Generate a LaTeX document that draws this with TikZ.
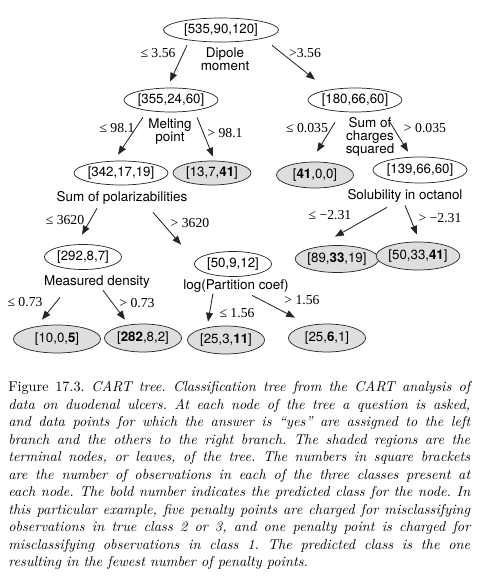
\documentclass[tikz,border=0pt]{standalone}
\usepackage{fontspec}
\newfontfamily\helv{TeX Gyre Heros}
\newfontfamily\tms{Liberation Serif}
\usetikzlibrary{arrows.meta,shapes.geometric}
\frenchspacing

\begin{document}
\begin{tikzpicture}[x=0.7pt,y=-0.7pt,->,>={Triangle[length=6.2pt,width=4.8pt]},
    every edge/.style={draw, black!85, line width=0.6pt},
    splitnode/.style={ellipse, draw=black!85, line width=0.5pt, inner sep=0pt, minimum height=16.8pt, font=\helv\fontsize{9.3}{10}\selectfont},
    leafnode/.style={splitnode, fill=black!13},
    cond/.style={font=\tms\fontsize{9.6}{10}\selectfont, inner sep=0pt},
    question/.style={font=\helv\fontsize{9.4}{9.1}\selectfont, inner sep=0pt, align=center},
    caption/.style={text width=323.4pt, align=justify, inner sep=0pt, font=\fontsize{10}{12.25}\selectfont}]
  \useasboundingbox (0,0) rectangle (479,583);

  \node[splitnode, minimum width=80.5pt] (root)  at (221,30)  {[535,90,120]};
  \node[splitnode, minimum width=64.4pt] (n355)  at (171,100) {[355,24,60]};
  \node[splitnode, minimum width=63pt]   (n180)  at (355,100) {[180,66,60]};
  \node[splitnode, minimum width=59.5pt] (n342)  at (121,173) {[342,17,19]};
  \node[leafnode,  minimum width=54.6pt] (n13)   at (212,173) {[13,7,\textbf{41}]};
  \node[leafnode,  minimum width=54pt, minimum height=18.2pt]   (n41)   at (315,175) {[\textbf{41},0,0]};
  \node[splitnode, minimum width=61.6pt, minimum height=18.2pt] (n139)  at (420,170) {[139,66,60]};
  \node[splitnode, minimum width=54pt, minimum height=17.5pt]   (n292)  at (83,257)  {[292,8,7]};
  \node[splitnode, minimum width=54pt, minimum height=17.5pt]   (n50)   at (233,264) {[50,9,12]};
  \node[leafnode,  minimum width=54pt, minimum height=18.9pt]   (n89)   at (337,259) {[89,\textbf{33},19]};
  \node[leafnode,  minimum width=55pt, minimum height=19.6pt]   (n5033) at (418,256) {[50,33,\textbf{41}]};
  \node[leafnode,  minimum width=61pt, minimum height=19.6pt]   (n10)   at (57,339)  {[10,0,\textbf{5}]};
  \node[leafnode,  minimum width=54pt, minimum height=19.6pt]   (n282)  at (143,338) {[\textbf{282},8,2]};
  \node[leafnode,  minimum width=54pt, minimum height=19.6pt]   (n253)  at (226,340) {[25,3,\textbf{11}]};
  \node[leafnode,  minimum width=54pt, minimum height=19.6pt]   (n2561) at (327,338) {[25,\textbf{6},1]};

  \node[question] (qdipole)   at (225,59)  {Dipole\\moment};
  \node[question] (qmelt)     at (170,132) {Melting\\point};
  \node[question] (qcharge)   at (370,137) {Sum of\\charges\\squared};
  \node[question] (qpolar)    at (122,198) {Sum of polarizabilities};
  \node[question] (qsolub)    at (405,196) {Solubility in octanol};
  \node[question] (qdensity)  at (97,282)  {Measured density};
  \node[question] (qpartit)   at (236,286) {log(Partition coef)};

  \node[cond] (cdipl) at (158,53)  {≤ 3.56};
  \node[cond] (cdipr) at (305,53)  {>3.56};
  \node[cond] (cmelt) at (117,128) {≤ 98.1};
  \node[cond] (cmeltr) at (225,133) {> 98.1};
  \node[cond] (cchrl) at (307,128) {≤ 0.035};
  \node[cond] (cchrr) at (425,128) {> 0.035};
  \node[cond] (cpoll) at (65,220)  {≤ 3620};
  \node[cond] (cpolr) at (190,223) {> 3620};
  \node[cond] (csoll) at (330,215) {≤ −2.31};
  \node[cond] (csolr) at (440,218) {> −2.31};
  \node[cond] (cdenl) at (25,302)  {≤ 0.73};
  \node[cond] (cdenr) at (137,303) {> 0.73};
  \node[cond] (cparl) at (237,313) {≤ 1.56};
  \node[cond] (cparr) at (302,300) {> 1.56};

  \path ([shift={(-34,3)}]root.south) edge ([shift={(-1,-6)}]n355.north)
        ([shift={(51,3)}]root.south)  edge ([shift={(-40,-8)}]n180.north)
        ([shift={(-28,5)}]n355.south) edge ([shift={(-3,-6)}]n342.north)
        ([shift={(26,5)}]n355.south)  edge ([shift={(1,-4)}]n13.north)
        ([shift={(-20,10)}]n180.south) edge ([shift={(2,-10)}]n41.north)
        ([shift={(35,10)}]n180.south)  edge ([shift={(-12,-5)}]n139.north)
        ([shift={(-24,23)}]n342.south) edge ([shift={(-1,-9.5)}]n292.north)
        ([shift={(32,27)}]n342.south)  edge ([shift={(-52,-6.5)}]n50.north)
        ([shift={(-33,24)}]n139.south) edge ([shift={(-2,-8.5)}]n89.north)
        ([shift={(-15,22)}]n139.south) edge ([shift={(-1,-7)}]n5033.north)
        ([shift={(-23,27.5)}]n292.south) edge ([shift={(-15,-5)}]n10.north)
        ([shift={(20,20.5)}]n292.south)  edge ([shift={(-18,-4)}]n282.north)
        ([shift={(-20,16.5)}]n50.south)  edge ([shift={(-18,-4)}]n253.north)
        ([shift={(19,18.5)}]n50.south)   edge ([shift={(-32,-6)}]n2561.north);

  \node[caption, anchor=north west] (cap) at (8,381) {Figure 17.3. \textit{CART tree. Classification tree from the CART analysis of\linebreak
    data on duodenal ulcers. At each node of the tree a question is asked,\linebreak
    and data points for which the answer is ``yes'' are assigned to the left\linebreak
    branch and the others to the right branch. The shaded regions are the\linebreak
    terminal nodes, or leaves, of the tree. The numbers in square brackets\linebreak
    are the number of observations in each of the three classes present at\linebreak
    each node. The bold number indicates the predicted class for the node. In\linebreak
    this particular example, five penalty points are charged for misclassifying\linebreak
    observations in true class 2 or 3, and one penalty point is charged for\linebreak
    misclassifying observations in class 1. The predicted class is the one\linebreak
    resulting in the fewest number of penalty points.}};
\end{tikzpicture}
\end{document}
